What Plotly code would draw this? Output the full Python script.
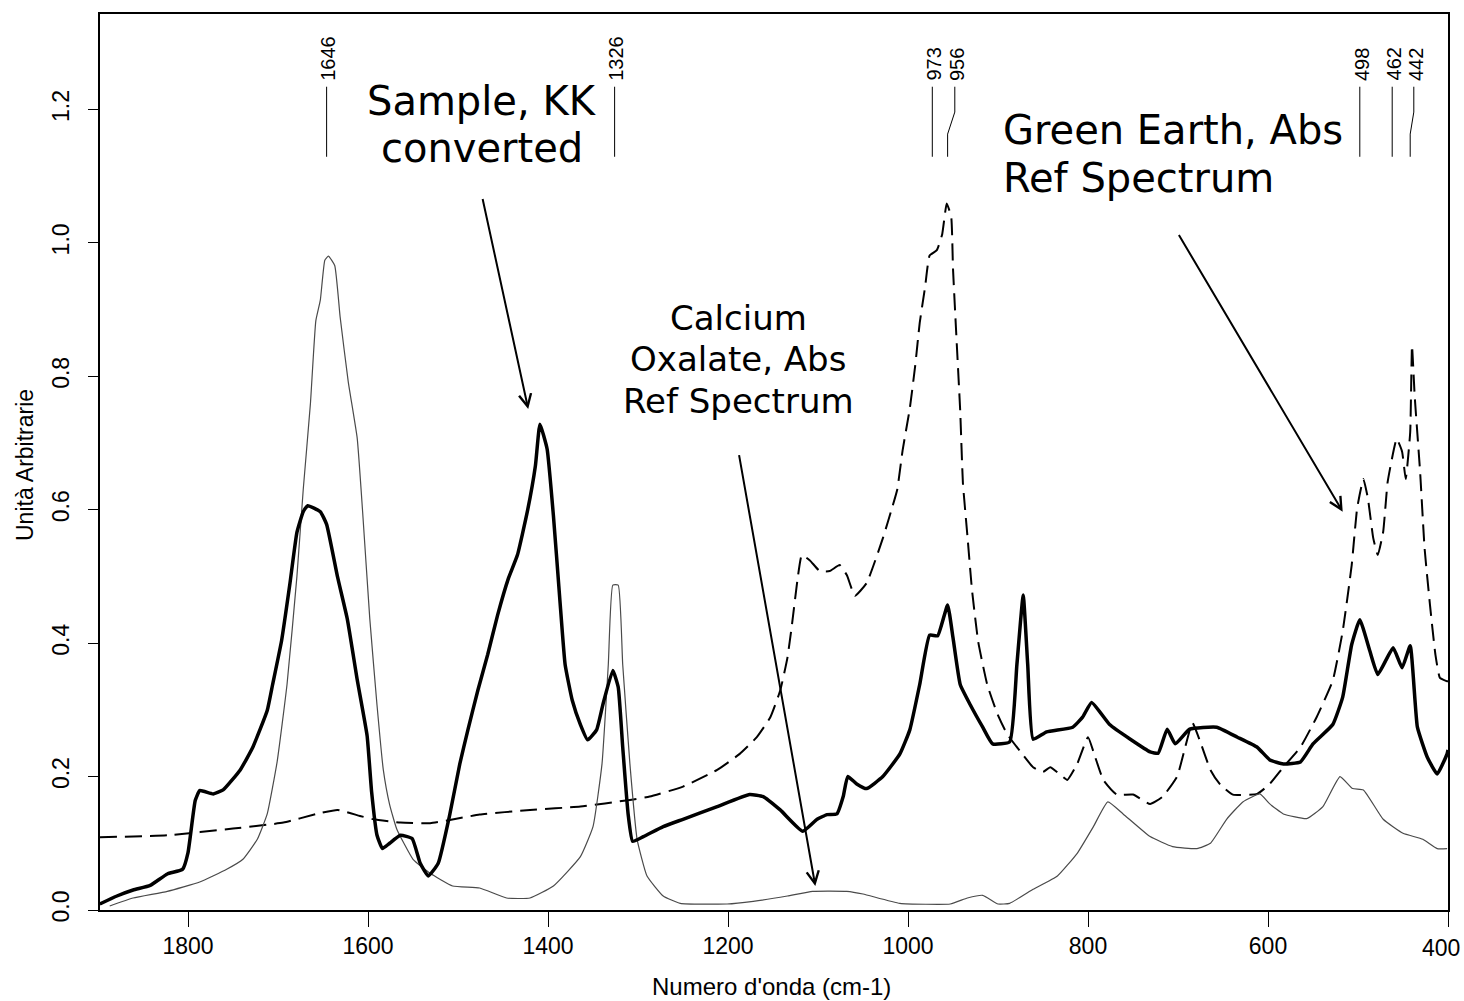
import plotly.graph_objects as go

# ---------------- data ----------------
sample_wn = [1898, 1879, 1861, 1842, 1823, 1806, 1800, 1792, 1787, 1772, 1761, 1742, 1728, 1712, 1706,
             1696, 1687, 1679, 1672, 1667, 1653, 1646, 1634, 1623, 1612, 1601, 1596, 1590, 1584, 1576,
             1564, 1551, 1542, 1533, 1522, 1509, 1498, 1489, 1478, 1467, 1456, 1444, 1434, 1423, 1414,
             1409, 1401, 1394, 1387, 1381, 1373, 1364, 1356, 1346, 1339, 1328, 1322, 1317, 1311, 1306,
             1294, 1272, 1250, 1212, 1176, 1161, 1142, 1117, 1101, 1090, 1079, 1072, 1067, 1057, 1046,
             1028, 1009, 998, 987, 976, 967, 956, 950, 942, 931, 917, 906, 887, 879, 872,
             867, 861, 846, 817, 806, 796, 776, 753, 731, 722, 712, 703, 687, 657, 634,
             612, 598, 583, 564, 550, 528, 517, 507, 498, 487, 478, 461, 451, 442, 434,
             423, 412, 401, 400]
sample_ab = [0.009, 0.021, 0.030, 0.037, 0.054, 0.061, 0.086, 0.164, 0.179, 0.174, 0.180, 0.210, 0.244, 0.299, 0.338,
             0.404, 0.487, 0.566, 0.597, 0.606, 0.597, 0.578, 0.500, 0.436, 0.345, 0.261, 0.177, 0.112, 0.092, 0.100,
             0.112, 0.107, 0.070, 0.051, 0.070, 0.144, 0.219, 0.270, 0.329, 0.383, 0.442, 0.497, 0.532, 0.597, 0.666,
             0.728, 0.691, 0.591, 0.468, 0.368, 0.314, 0.278, 0.255, 0.270, 0.308, 0.359, 0.334, 0.244, 0.144, 0.103,
             0.110, 0.125, 0.136, 0.155, 0.173, 0.170, 0.150, 0.118, 0.136, 0.143, 0.144, 0.170, 0.200, 0.189, 0.182,
             0.200, 0.234, 0.270, 0.338, 0.412, 0.411, 0.457, 0.408, 0.338, 0.308, 0.274, 0.249, 0.252, 0.368, 0.472,
             0.368, 0.256, 0.267, 0.274, 0.289, 0.311, 0.278, 0.256, 0.237, 0.235, 0.271, 0.249, 0.271, 0.274, 0.259,
             0.244, 0.225, 0.219, 0.222, 0.249, 0.278, 0.319, 0.398, 0.435, 0.389, 0.353, 0.393, 0.363, 0.396, 0.274,
             0.229, 0.204, 0.234, 0.240]

oxalate_wn = [1887, 1861, 1823, 1787, 1757, 1739, 1723, 1712, 1701, 1690, 1679, 1672, 1664, 1658, 1653,
              1648, 1644, 1637, 1631, 1622, 1612, 1606, 1598, 1590, 1583, 1576, 1568, 1550, 1531, 1506,
              1476, 1446, 1420, 1394, 1364, 1350, 1340, 1333, 1328, 1322, 1317, 1309, 1301, 1290, 1272,
              1253, 1201, 1172, 1134, 1106, 1068, 1050, 1009, 953, 934, 917, 900, 887, 861, 834,
              812, 794, 778, 761, 731, 706, 679, 664, 646, 628, 609, 598, 583, 557, 539,
              520, 506, 494, 472, 450, 428, 412, 401]
oxalate_ab = [0.006, 0.018, 0.028, 0.042, 0.061, 0.076, 0.106, 0.144, 0.222, 0.338, 0.500, 0.630, 0.759, 0.883, 0.914,
              0.974, 0.980, 0.966, 0.889, 0.792, 0.707, 0.597, 0.436, 0.307, 0.210, 0.158, 0.121, 0.076, 0.055, 0.036,
              0.033, 0.018, 0.018, 0.036, 0.080, 0.125, 0.219, 0.368, 0.487, 0.487, 0.368, 0.219, 0.106, 0.051, 0.021,
              0.010, 0.009, 0.013, 0.021, 0.028, 0.028, 0.024, 0.010, 0.009, 0.018, 0.022, 0.009, 0.010, 0.031, 0.051,
              0.085, 0.125, 0.162, 0.144, 0.110, 0.095, 0.092, 0.100, 0.136, 0.162, 0.174, 0.159, 0.144, 0.137, 0.155,
              0.200, 0.182, 0.180, 0.136, 0.115, 0.106, 0.092, 0.092]

earth_wn = [1898, 1823, 1750, 1694, 1657, 1634, 1609, 1594, 1564, 1531, 1476, 1420, 1364, 1309, 1287,
            1250, 1212, 1187, 1168, 1153, 1142, 1134, 1129, 1123, 1118, 1109, 1098, 1087, 1076, 1068,
            1059, 1046, 1028, 1017, 1012, 1006, 998, 992, 987, 981, 976, 968, 962, 957, 952,
            950, 946, 942, 939, 934, 929, 922, 912, 901, 890, 872, 861, 850, 842, 831,
            823, 812, 800, 792, 783, 768, 750, 731, 717, 701, 692, 684, 676, 664, 653,
            639, 612, 598, 583, 564, 546, 528, 517, 507, 501, 494, 489, 483, 478, 472,
            467, 457, 451, 447, 442, 440, 437, 431, 426, 420, 414, 409, 401, 400]
earth_ab = [0.109, 0.112, 0.122, 0.131, 0.144, 0.150, 0.141, 0.136, 0.131, 0.130, 0.143, 0.150, 0.155, 0.165, 0.170,
            0.185, 0.210, 0.234, 0.259, 0.289, 0.329, 0.378, 0.427, 0.493, 0.532, 0.524, 0.508, 0.508, 0.517, 0.502,
            0.471, 0.490, 0.557, 0.606, 0.630, 0.689, 0.752, 0.816, 0.880, 0.934, 0.981, 0.989, 1.013, 1.059, 1.039,
            0.961, 0.853, 0.748, 0.640, 0.561, 0.481, 0.402, 0.338, 0.295, 0.264, 0.232, 0.214, 0.207, 0.214, 0.203,
            0.195, 0.219, 0.259, 0.229, 0.195, 0.173, 0.173, 0.159, 0.170, 0.200, 0.244, 0.281, 0.255, 0.210, 0.188,
            0.173, 0.174, 0.189, 0.214, 0.244, 0.289, 0.344, 0.418, 0.517, 0.602, 0.646, 0.617, 0.557, 0.532, 0.567,
            0.642, 0.706, 0.687, 0.646, 0.716, 0.846, 0.770, 0.657, 0.542, 0.457, 0.383, 0.348, 0.343, 0.343]

peak_pos = [1646, 1326, 973, 956, 498, 462, 442]          # peak wavenumbers
peak_label_pos = [1646, 1326, 973, 948, 498, 462, 438]    # where the labels sit (spread apart)
peak_text = [str(p) for p in peak_pos]

x_ticks = [1800, 1600, 1400, 1200, 1000, 800, 600, 400]
x_ticklabels = ["1800", "1600", "1400", "1200", "1000", "800", "600", ""]   # "400" drawn at the edge below
y_ticks = [0.0, 0.2, 0.4, 0.6, 0.8, 1.0, 1.2]
y_ticklabels = ["0.0", "0.2", "0.4", "0.6", "0.8", "1.0", "1.2"]

# ---------------- figure ----------------
fig = go.Figure()

fig.add_trace(go.Scatter(x=earth_wn, y=earth_ab, mode="lines", name="Green Earth, Abs Ref Spectrum",
                         line=dict(color="black", width=2, dash="17px,8px", shape="spline", smoothing=0.4),
                         hoverinfo="skip"))
fig.add_trace(go.Scatter(x=oxalate_wn, y=oxalate_ab, mode="lines", name="Calcium Oxalate, Abs Ref Spectrum",
                         line=dict(color="#4a4a4a", width=1.2, shape="spline", smoothing=0.4),
                         hoverinfo="skip"))
fig.add_trace(go.Scatter(x=sample_wn, y=sample_ab, mode="lines", name="Sample, KK converted",
                         line=dict(color="black", width=3.5, shape="spline", smoothing=0.4),
                         hoverinfo="skip"))

# peak marker lines (label position -> peak position)
ln_x, ln_y = [], []
y_top, y_k1, y_k2, y_bot = 1.234, 1.196, 1.163, 1.129
for p, lp in zip(peak_pos, peak_label_pos):
    ln_x += [lp, lp, p, p, None]
    ln_y += [y_top, y_k1, y_k2, y_bot, None]
fig.add_trace(go.Scatter(x=ln_x, y=ln_y, mode="lines", line=dict(color="black", width=1),
                         hoverinfo="skip", showlegend=False))

annotations = []
for lp, t in zip(peak_label_pos, peak_text):
    annotations.append(dict(x=lp, y=1.240, xref="x", yref="y", text=t, showarrow=False,
                            textangle=-90, xanchor="center", yanchor="bottom", xshift=2,
                            font=dict(family="Liberation Sans", size=20, color="black")))

W0, W1, H0, H1 = 100, 1448, 12, 910


def px(xp):
    return (xp - W0) / (W1 - W0)


def py(yp):
    return (H1 - yp) / (H1 - H0)


big = dict(family="DejaVu Sans", size=40, color="black")
mid = dict(family="DejaVu Sans", size=34, color="black")
text_blocks = [
    ("Sample, KK", 482, 99, "center", big),
    ("converted", 482, 146, "center", big),
    ("Green Earth, Abs", 1001, 128, "left", big),
    ("Ref Spectrum", 1001, 176, "left", big),
    ("Calcium", 738, 317, "center", mid),
    ("Oxalate, Abs", 738, 358, "center", mid),
    ("Ref Spectrum", 738, 400, "center", mid),
]
for t, xx, yy, anc, f in text_blocks:
    annotations.append(dict(x=px(xx), y=py(yy), xref="paper", yref="paper", text=t, showarrow=False,
                            xanchor=anc, yanchor="middle", font=f))

# arrows (tail -> tip, in data coordinates)
arrows = [((1473, 1.068), (1422, 0.751)),
          ((1188, 0.684), (1103, 0.036)),
          ((700, 1.014), (517, 0.597))]
for (tx, ty), (hx, hy) in arrows:
    annotations.append(dict(x=hx, y=hy, ax=tx, ay=ty, xref="x", yref="y", axref="x", ayref="y",
                            text="", showarrow=True, arrowhead=5, arrowsize=1.2, arrowwidth=2,
                            arrowcolor="black", standoff=0, startstandoff=0))

# last x tick label, kept inside the page like in the reference
annotations.append(dict(x=px(1462), y=py(948), xref="paper", yref="paper", text="400",
                        showarrow=False, xanchor="right", yanchor="middle",
                        font=dict(family="Liberation Sans", size=23, color="black")))

# axis titles
annotations.append(dict(x=px(771), y=py(987), xref="paper", yref="paper", text="Numero d'onda (cm-1)",
                        showarrow=False, xanchor="center", yanchor="middle",
                        font=dict(family="Liberation Sans", size=24, color="black")))
annotations.append(dict(x=px(25), y=py(464), xref="paper", yref="paper", text="Unità Arbitrarie",
                        showarrow=False, xanchor="center", yanchor="middle", textangle=-90,
                        font=dict(family="Liberation Sans", size=23, color="black")))

fig.update_layout(
    width=1464, height=1001,
    margin=dict(l=W0, r=1464 - W1, t=H0, b=1001 - H1),
    plot_bgcolor="white", paper_bgcolor="white",
    showlegend=False,
    annotations=annotations,
)
fig.update_xaxes(range=[1897.8, 400], tickvals=x_ticks, ticktext=x_ticklabels,
                 ticks="outside", ticklen=15, tickwidth=1.2, tickcolor="black",
                 showline=True, linecolor="black", linewidth=1.5, mirror=True,
                 showgrid=False, zeroline=False,
                 tickfont=dict(family="Liberation Sans", size=23, color="black"))
fig.update_yaxes(range=[0, 1.343], tickvals=y_ticks, ticktext=y_ticklabels, tickangle=-90,
                 ticks="outside", ticklen=10, tickwidth=1.2, tickcolor="black",
                 showline=True, linecolor="black", linewidth=1.5, mirror=True,
                 showgrid=False, zeroline=False, ticklabelstandoff=10,
                 tickfont=dict(family="Liberation Sans", size=23, color="black"))

fig.write_html("out.html", config={"displayModeBar": False},
               post_script="document.body.style.margin='0px';document.body.style.overflow='hidden';")
